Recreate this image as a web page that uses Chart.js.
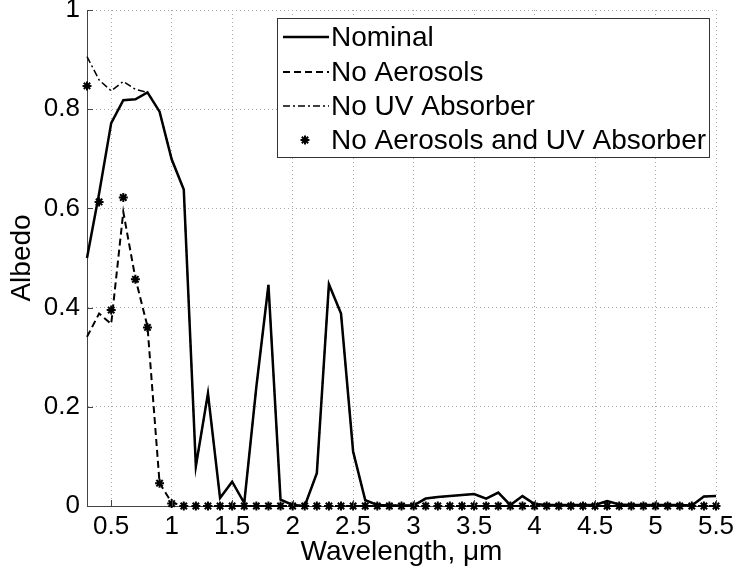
<!DOCTYPE html>
<html>
<head>
<meta charset="utf-8">
<script src="https://cdn.jsdelivr.net/npm/chart.js@4/dist/chart.umd.min.js"></script>
<style>
  html, body { margin: 0; padding: 0; background: #fff; }
  #wrap { width: 736px; height: 573px; }
</style>
</head>
<body>
<div id="wrap"><canvas id="albedo-chart"></canvas></div>
<script>
// Wavelength grid, um
const wavelength = [0.3, 0.4, 0.5, 0.6, 0.7, 0.8, 0.9, 1.0, 1.1, 1.2, 1.3, 1.4, 1.5, 1.6, 1.7, 1.8, 1.9, 2.0,
  2.1, 2.2, 2.3, 2.4, 2.5, 2.6, 2.7, 2.8, 2.9, 3.0, 3.1, 3.2, 3.3, 3.4, 3.5, 3.6, 3.7, 3.8, 3.9, 4.0,
  4.1, 4.2, 4.3, 4.4, 4.5, 4.6, 4.7, 4.8, 4.9, 5.0, 5.1, 5.2, 5.3, 5.4, 5.5];

// Albedo series
const nominal = [0.50, 0.63, 0.772, 0.818, 0.82, 0.834, 0.795, 0.699, 0.638, 0.08, 0.227, 0.016, 0.049, 0.006, 0.24, 0.446, 0.013, 0.002,
  0.0, 0.066, 0.447, 0.388, 0.11, 0.012, 0.002, 0.001, 0.001, 0.001, 0.015, 0.018, 0.02, 0.022, 0.024, 0.015, 0.027, 0.002, 0.02, 0.004,
  0.002, 0.002, 0.002, 0.002, 0.002, 0.01, 0.003, 0.002, 0.002, 0.002, 0.002, 0.002, 0.001, 0.019, 0.02];
const noAerosols = [0.341, 0.388, 0.367, 0.593, 0.459, 0.362, 0.046, 0.007, 0, 0, 0, 0, 0, 0, 0, 0, 0, 0,
  0, 0, 0, 0, 0, 0, 0, 0, 0, 0, 0, 0, 0, 0, 0, 0, 0, 0, 0, 0,
  0, 0, 0, 0, 0, 0, 0, 0, 0, 0, 0, 0, 0, 0, 0];
const noUvAbsorber = [0.906, 0.859, 0.837, 0.856, 0.84, 0.834, 0.795, 0.699, 0.638, 0.08, 0.227, 0.016, 0.049, 0.006, 0.24, 0.446, 0.013, 0.002,
  0.0, 0.066, 0.447, 0.388, 0.11, 0.012, 0.002, 0.001, 0.001, 0.001, 0.015, 0.018, 0.02, 0.022, 0.024, 0.015, 0.027, 0.002, 0.02, 0.004,
  0.002, 0.002, 0.002, 0.002, 0.002, 0.01, 0.003, 0.002, 0.002, 0.002, 0.002, 0.002, 0.001, 0.019, 0.02];
const noAerosolsNoUv = [0.847, 0.613, 0.395, 0.622, 0.457, 0.36, 0.046, 0.005, 0, 0, 0, 0, 0, 0, 0, 0, 0, 0,
  0, 0, 0, 0, 0, 0, 0, 0, 0, 0, 0, 0, 0, 0, 0, 0, 0, 0, 0, 0,
  0, 0, 0, 0, 0, 0, 0, 0, 0, 0, 0, 0, 0, 0, 0];

const xTicks = [0.5, 1, 1.5, 2, 2.5, 3, 3.5, 4, 4.5, 5, 5.5];
const yTicks = [0, 0.2, 0.4, 0.6, 0.8, 1];
const seriesNames = ['Nominal', 'No Aerosols', 'No UV Absorber', 'No Aerosols and UV Absorber'];

const FONT = "'Liberation Sans', Arial, Helvetica, sans-serif";

function pts(ys) {
  return wavelength.map((w, i) => ({ x: w, y: ys[i] }));
}

function drawAsterisk(ctx, x, y, r) {
  ctx.save();
  ctx.strokeStyle = '#000';
  ctx.lineWidth = 2;
  ctx.setLineDash([]);
  ctx.beginPath();
  for (let k = 0; k < 4; k++) {
    const a = k * Math.PI / 4;
    ctx.moveTo(x - r * Math.cos(a), y - r * Math.sin(a));
    ctx.lineTo(x + r * Math.cos(a), y + r * Math.sin(a));
  }
  ctx.stroke();
  ctx.restore();
}

// axis titles, inward ticks and the legend box
const decor = {
  id: 'decor',
  afterDraw(chart) {
    const ctx = chart.ctx;
    const a = chart.chartArea;
    const xs = chart.scales.x, ys = chart.scales.y;
    ctx.save();
    // inward tick marks
    ctx.strokeStyle = '#444';
    ctx.lineWidth = 1;
    ctx.beginPath();
    xTicks.forEach(v => {
      const px = Math.round(xs.getPixelForValue(v)) + 0.5;
      ctx.moveTo(px, a.bottom);
      ctx.lineTo(px, a.bottom - 6);
    });
    yTicks.forEach(v => {
      const py = Math.round(ys.getPixelForValue(v)) + 0.5;
      ctx.moveTo(a.left, py);
      ctx.lineTo(a.left + 6, py);
    });
    ctx.stroke();

    // axis titles
    ctx.fillStyle = '#000';
    ctx.font = '28px ' + FONT;
    ctx.textAlign = 'center';
    ctx.textBaseline = 'middle';
    ctx.fillText('Wavelength, \u03bcm', (a.left + a.right) / 2, 552);
    ctx.save();
    ctx.translate(22, (a.top + a.bottom) / 2);
    ctx.rotate(-Math.PI / 2);
    ctx.fillText('Albedo', 0, 0);
    ctx.restore();

    // legend
    const bx = 277.5, by = 18.5, bw = 432, bh = 139;
    ctx.fillStyle = '#fff';
    ctx.fillRect(bx, by, bw, bh);
    ctx.strokeStyle = '#333';
    ctx.lineWidth = 1;
    ctx.strokeRect(bx, by, bw, bh);
    const rows = [37, 72, 106, 140];
    ctx.font = '28px ' + FONT;
    ctx.textAlign = 'left';
    chart.data.datasets.forEach((ds, i) => {
      const y = rows[i];
      if (ds.showLine === false) {
        drawAsterisk(ctx, 305, y, 4.5);
      } else {
        ctx.save();
        ctx.strokeStyle = '#000';
        ctx.lineWidth = ds.borderWidth;
        ctx.setLineDash(ds.borderDash || []);
        ctx.beginPath();
        ctx.moveTo(283, y);
        ctx.lineTo(329, y);
        ctx.stroke();
        ctx.restore();
      }
      ctx.fillStyle = '#000';
      ctx.fillText(seriesNames[i], 331, y + 1);
    });
    ctx.restore();
  }
};

const ctx = document.getElementById('albedo-chart').getContext('2d');
new Chart(ctx, {
  type: 'line',
  data: {
    datasets: [
      { label: seriesNames[0], data: pts(nominal), borderColor: '#000', borderWidth: 2.5, pointRadius: 0, order: 3, clip: false },
      { label: seriesNames[1], data: pts(noAerosols), borderColor: '#000', borderWidth: 2, borderDash: [7, 4], pointRadius: 0, order: 2, clip: false },
      { label: seriesNames[2], data: pts(noUvAbsorber), borderColor: '#000', borderWidth: 1.5, borderDash: [7, 3, 2, 3], pointRadius: 0, order: 1, clip: false },
      { label: seriesNames[3], data: pts(noAerosolsNoUv), showLine: false, pointStyle: 'star', pointRadius: 4.5,
        pointBorderWidth: 2, pointBorderColor: '#000', pointBackgroundColor: '#000', order: 0, clip: false }
    ]
  },
  options: {
    responsive: true,
    maintainAspectRatio: false,
    animation: false,
    events: [],
    layout: { padding: { top: 10, right: 20, left: 0, bottom: 0 } },
    plugins: { legend: { display: false }, tooltip: { enabled: false } },
    scales: {
      x: {
        type: 'linear',
        min: 0.3,
        max: 5.5,
        afterBuildTicks: s => { s.ticks = xTicks.map(v => ({ value: v })); },
        afterFit: s => { s.height = 67; s.paddingLeft = 0; s.paddingRight = 0; },
        ticks: { color: '#000', font: { family: FONT, size: 26 }, padding: 5, maxRotation: 0, callback: v => String(v) },
        grid: { color: '#a8a8a8', lineWidth: 1, drawTicks: false },
        border: { display: true, color: '#444', width: 1, dash: [1, 3] }
      },
      y: {
        min: 0,
        max: 1,
        afterBuildTicks: s => { s.ticks = yTicks.map(v => ({ value: v })); },
        afterFit: s => { s.width = 87; s.paddingTop = 0; s.paddingBottom = 0; },
        ticks: { color: '#000', font: { family: FONT, size: 26 }, padding: 7, callback: v => String(v) },
        grid: { color: '#a8a8a8', lineWidth: 1, drawTicks: false },
        border: { display: true, color: '#444', width: 1, dash: [1, 3] }
      }
    }
  },
  plugins: [decor]
});
</script>
</body>
</html>
